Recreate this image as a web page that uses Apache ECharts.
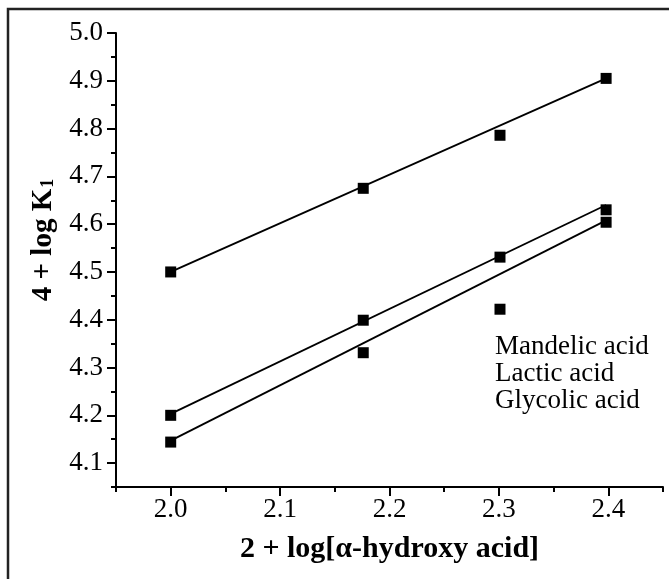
<!DOCTYPE html>
<html>
<head>
<meta charset="utf-8">
<script src="https://cdn.jsdelivr.net/npm/echarts/dist/echarts.min.js"></script>
<style>
    html, body { margin: 0; padding: 0; background: #fff; }
    #chart-container { width: 669px; height: 579px; }
</style>
</head>
<body>
<div id="chart-container"></div>
<script>
// measured points
let xValues = [2.0, 2.176, 2.301, 2.398];
let mandelic = [4.500, 4.675, 4.786, 4.905];
let lactic = [4.200, 4.399, 4.531, 4.630];
let glycolic = [4.144, 4.331, 4.422, 4.604];

// fitted lines (end points)
let fitX = [2.0, 2.398];
let mandelicFit = [4.500, 4.905];
let lacticFit = [4.203, 4.640];
let glycolicFit = [4.147, 4.608];

let seriesNames = ['Mandelic acid', 'Lactic acid', 'Glycolic acid'];

// ticks
let xTicks = [2.0, 2.1, 2.2, 2.3, 2.4];
let xMinorTicks = [1.95, 2.05, 2.15, 2.25, 2.35, 2.45];
let yTicks = [4.1, 4.2, 4.3, 4.4, 4.5, 4.6, 4.7, 4.8, 4.9, 5.0];
let yMinorTicks = [4.05, 4.15, 4.25, 4.35, 4.45, 4.55, 4.65, 4.75, 4.85, 4.95];

const serif = 'Liberation Serif';

function pairs(xs, ys) {
    let out = [];
    for (let i = 0; i < xs.length; i++) {
        out.push([xs[i], ys[i]]);
    }
    return out;
}

function pointSeries(name, ys) {
    return {
        name: name,
        type: 'scatter',
        symbol: 'rect',
        symbolSize: 11,
        itemStyle: { color: '#000', opacity: 1 },
        data: pairs(xValues, ys)
    };
}

function fitSeries(ys) {
    return {
        type: 'line',
        showSymbol: false,
        lineStyle: { color: '#000', width: 1.8 },
        data: pairs(fitX, ys)
    };
}

function createChart() {
    let dom = document.getElementById('chart-container');
    let myChart = echarts.init(dom, null, { renderer: 'canvas' });

    let axisLine = { show: true, lineStyle: { color: '#000', width: 2 } };

    let option = {
        backgroundColor: '#fff',
        animation: false,
        grid: { left: 116, top: 33, right: 6, bottom: 92 },
        xAxis: [
            {
                type: 'value',
                min: 1.95,
                max: 2.45,
                name: '2 + log[α-hydroxy acid]',
                nameLocation: 'middle',
                nameGap: 47,
                nameTextStyle: { fontFamily: serif, fontWeight: 'bold', fontSize: 30, color: '#000' },
                axisLine: axisLine,
                axisTick: { show: true, customValues: xTicks, length: 9, lineStyle: { color: '#000', width: 2 } },
                axisLabel: {
                    customValues: xTicks,
                    margin: 9,
                    fontFamily: serif,
                    fontSize: 27,
                    color: '#000',
                    formatter: (v) => v.toFixed(1)
                },
                splitLine: { show: false }
            },
            {
                type: 'value',
                position: 'bottom',
                min: 1.95,
                max: 2.45,
                axisLine: { show: false },
                axisTick: { show: true, customValues: xMinorTicks, length: 5, lineStyle: { color: '#000', width: 2 } },
                axisLabel: { show: false },
                splitLine: { show: false }
            }
        ],
        yAxis: [
            {
                type: 'value',
                min: 4.05,
                max: 5.0,
                name: '{a|4 + log K}{b|1}',
                nameLocation: 'middle',
                nameGap: 58,
                nameTextStyle: {
                    color: '#000',
                    padding: [0, 0, 0, 40],
                    rich: {
                        a: { fontFamily: serif, fontWeight: 'bold', fontSize: 29, color: '#000' },
                        b: { fontFamily: serif, fontWeight: 'bold', fontSize: 18, color: '#000', padding: [10, 0, 0, 1] }
                    }
                },
                axisLine: axisLine,
                axisTick: { show: true, customValues: yTicks, length: 9, lineStyle: { color: '#000', width: 2 } },
                axisLabel: {
                    customValues: yTicks,
                    margin: 13,
                    fontFamily: serif,
                    fontSize: 27,
                    color: '#000',
                    formatter: (v) => v.toFixed(1)
                },
                splitLine: { show: false }
            },
            {
                type: 'value',
                position: 'left',
                min: 4.05,
                max: 5.0,
                axisLine: { show: false },
                axisTick: { show: true, customValues: yMinorTicks, length: 5, lineStyle: { color: '#000', width: 2 } },
                axisLabel: { show: false },
                splitLine: { show: false }
            }
        ],
        graphic: [
            {
                type: 'rect',
                shape: { x: 8, y: 9, width: 720, height: 640 },
                style: { fill: 'none', stroke: '#222', lineWidth: 2.5 },
                silent: true
            },
            {
                type: 'text',
                left: 495,
                top: 333,
                style: {
                    text: seriesNames.join('\n'),
                    fontFamily: serif,
                    fontSize: 27,
                    lineHeight: 27,
                    fill: '#000'
                }
            }
        ],
        series: [
            pointSeries(seriesNames[0], mandelic),
            pointSeries(seriesNames[1], lactic),
            pointSeries(seriesNames[2], glycolic),
            fitSeries(mandelicFit),
            fitSeries(lacticFit),
            fitSeries(glycolicFit)
        ]
    };

    myChart.setOption(option);
    window.addEventListener('resize', myChart.resize);
}

createChart();
</script>
</body>
</html>
